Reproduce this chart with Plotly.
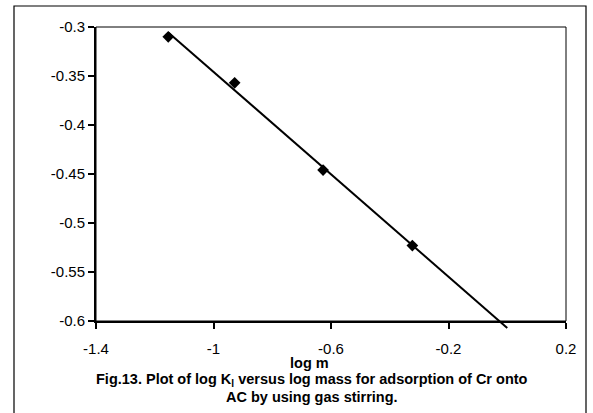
import numpy as np
import plotly.graph_objects as go

# data
log_m = [-1.154, -0.928, -0.627, -0.323]
log_kl = [-0.310, -0.357, -0.446, -0.523]
forecast_to = 0.0

x_ticks = [-1.4, -1.0, -0.6, -0.2, 0.2]
x_ticktext = ["-1.4", "-1", "-0.6", "-0.2", "0.2"]
y_ticks = [-0.6, -0.55, -0.5, -0.45, -0.4, -0.35, -0.3]
y_ticktext = ["-0.6", "-0.55", "-0.5", "-0.45", "-0.4", "-0.35", "-0.3"]

x_title = "<b>log m</b>"
caption_1 = "<b>Fig.13. Plot of log K<sub>l</sub> versus log mass for adsorption of Cr onto</b>"
caption_2 = "<b>AC by using gas stirring.</b>"

W, H = 593, 413
ml, mr, mt, mb = 96, 27, 27, 80
plot_h = H - mt - mb          # paper height in px
ext = 12                      # px extension below the x axis for the trendline
main_h = plot_h - ext
f = ext / plot_h
yr = [-0.6, -0.3]
y2low = yr[0] - (yr[1] - yr[0]) * ext / main_h

slope, icpt = np.polyfit(log_m, log_kl, 1)
tx = np.array([min(log_m), forecast_to])
ty = slope * tx + icpt

FONT = "Liberation Sans, Arial, sans-serif"
pw = W - ml - mr


def px_x(p):
    return (p - ml) / pw


def px_y(p):
    return -(p - (H - mb)) / plot_h


fig = go.Figure()
fig.add_trace(go.Scatter(x=tx, y=ty, mode="lines", xaxis="x2", yaxis="y2",
                         line=dict(color="black", width=2), showlegend=False,
                         hoverinfo="skip"))
fig.add_trace(go.Scatter(x=log_m, y=log_kl, mode="markers",
                         marker=dict(symbol="diamond", size=9, color="black"),
                         showlegend=False, cliponaxis=False))

fig.update_layout(
    width=W, height=H,
    margin=dict(l=ml, r=mr, t=mt, b=mb),
    paper_bgcolor="white", plot_bgcolor="rgba(0,0,0,0)",
    font=dict(family=FONT, color="black", size=15),
    xaxis=dict(range=[-1.4, 0.2], tickvals=x_ticks, ticktext=x_ticktext,
               showline=True, linecolor="black", linewidth=2,
               ticks="outside", ticklen=6, tickwidth=1.5, tickcolor="black",
               showgrid=False, zeroline=False, anchor="y",
               tickfont=dict(size=15), ticklabelstandoff=7),
    yaxis=dict(range=yr, domain=[f, 1], tickvals=y_ticks, ticktext=y_ticktext,
               showline=True, linecolor="black", linewidth=2,
               ticks="outside", ticklen=6, tickwidth=1.5, tickcolor="black",
               showgrid=False, zeroline=False, tickfont=dict(size=15)),
    xaxis2=dict(range=[-1.4, 0.2], overlaying="x", visible=False, anchor="y2"),
    yaxis2=dict(range=[y2low, -0.3], domain=[0, 1], visible=False, anchor="x2"),
)

# plot-area frame (thin top/right)
fig.add_shape(type="rect", xref="paper", yref="paper", x0=0, x1=1, y0=f, y1=1,
              line=dict(color="black", width=1), layer="below")

# outer chart border
fig.add_shape(type="rect", xref="paper", yref="paper",
              x0=px_x(14), x1=px_x(586), y0=px_y(415), y1=px_y(6),
              line=dict(color="black", width=1.2))

fig.add_annotation(text=x_title, xref="paper", yref="paper",
                   x=px_x(309), y=px_y(363), xanchor="center", yanchor="middle",
                   showarrow=False, font=dict(size=14.5, family=FONT))
fig.add_annotation(text=caption_1, xref="paper", yref="paper",
                   x=px_x(312), y=px_y(380), xanchor="center", yanchor="middle",
                   showarrow=False, font=dict(size=14.5, family=FONT))
fig.add_annotation(text=caption_2, xref="paper", yref="paper",
                   x=px_x(312), y=px_y(397), xanchor="center", yanchor="middle",
                   showarrow=False, font=dict(size=14.5, family=FONT))

fig.write_html("out.html")
